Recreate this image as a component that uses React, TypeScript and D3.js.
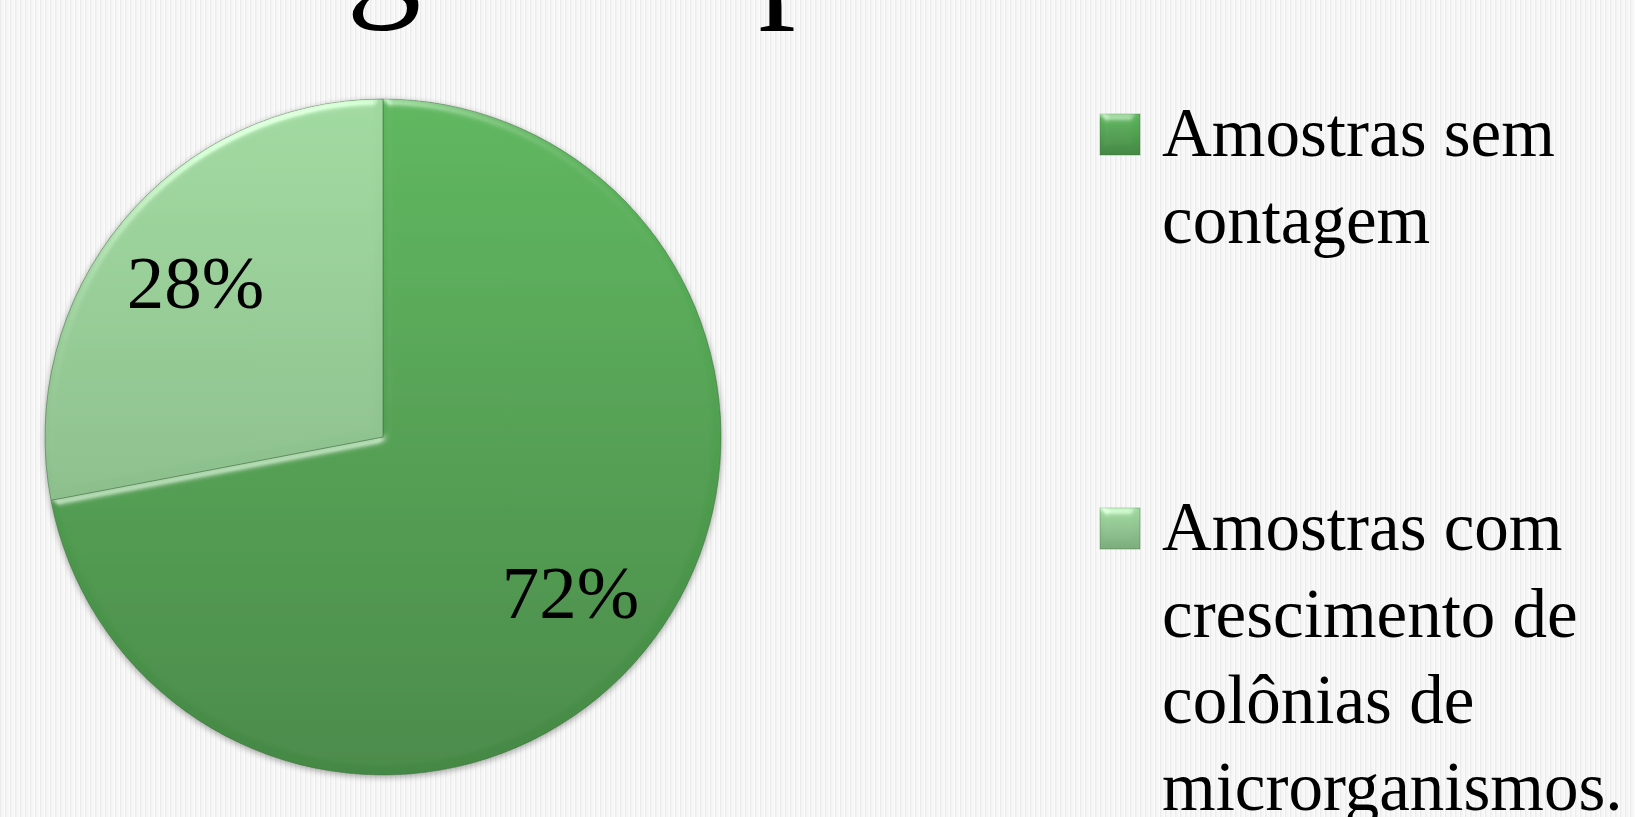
import React from "react";
import * as d3 from "d3";

const categories = ["Amostras sem contagem", "Amostras com crescimento de colônias de microrganismos."];
const values = [72, 28];
const valueLabels = ["72%", "28%"];
const legendLines = [["Amostras sem", "contagem"], ["Amostras com", "crescimento de", "colônias de", "microrganismos."]];
const titleText = "Contagem de placas";

const W = 1635, H = 817;
const cx = 383, cy = 437, R = 338;
const topColors = ["#5cb65c", "#a0d9a0"];
const botColors = ["#458845", "#7dac7d"];
const FONT = "'Liberation Serif', 'DejaVu Serif', serif";

export default function App() {
  const pie = d3.pie<number>().sort(null).value((d) => d);
  const arcs = pie(values);
  const arc = d3.arc<d3.PieArcDatum<number>>().innerRadius(0).outerRadius(R);
  const labelArc = d3.arc<d3.PieArcDatum<number>>().innerRadius(R * 0.72).outerRadius(R * 0.72);
  const legendY = d3.scalePoint<number>().domain([0, 1]).range([156, 550]);
  const lineH = 86.5;

  return (
    <svg width={W} height={H} style={{ position: "absolute", left: 0, top: 0, display: "block" }} fontFamily={FONT}>
      <defs>
        <pattern id="stripes" width="5" height="10" patternUnits="userSpaceOnUse">
          <rect width="5" height="10" fill="#fbfbfb" />
          <rect x="0" width="1.5" height="10" fill="#ececec" />
          <rect x="2.5" width="1" height="10" fill="#f3f3f3" />
        </pattern>
        {values.map((_, i) => (
          <linearGradient key={i} id={`g${i}`} gradientUnits="userSpaceOnUse" x1="0" y1={-R} x2="0" y2={R}>
            <stop offset="0" stopColor={topColors[i]} />
            <stop offset="1" stopColor={botColors[i]} />
          </linearGradient>
        ))}
        {values.map((_, i) => (
          <linearGradient key={"l" + i} id={`lg${i}`} x1="0" y1="0" x2="0" y2="1">
            <stop offset="0" stopColor={topColors[i]} />
            <stop offset="1" stopColor={botColors[i]} />
          </linearGradient>
        ))}
        <filter id="bevel" x="-5%" y="-5%" width="110%" height="110%">
          <feGaussianBlur in="SourceAlpha" stdDeviation="4" result="blur" />
          <feSpecularLighting in="blur" surfaceScale="4" specularConstant="0.8" specularExponent="25" lightingColor="#ffffff" result="spec">
            <feDistantLight azimuth="250" elevation="30" />
          </feSpecularLighting>
          <feComposite in="spec" in2="SourceAlpha" operator="in" result="specIn" />
          <feComposite in="SourceGraphic" in2="specIn" operator="arithmetic" k1="0" k2="1" k3="0.5" k4="0" />
        </filter>
        <filter id="shadow" x="-10%" y="-10%" width="120%" height="120%">
          <feGaussianBlur in="SourceAlpha" stdDeviation="3" />
          <feOffset dx="0" dy="2" result="o" />
          <feComponentTransfer><feFuncA type="linear" slope="0.35" /></feComponentTransfer>
          <feMerge><feMergeNode /><feMergeNode in="SourceGraphic" /></feMerge>
        </filter>
      </defs>
      <rect width={W} height={H} fill="url(#stripes)" />
      <text x={33} y={-1} fontSize={150} letterSpacing={-9} fill="#000">{titleText}</text>
      <g transform={`translate(${cx},${cy})`}>
        <g filter="url(#shadow)">
          {arcs.map((a, i) => (
            <path key={i} d={arc(a) || ""} fill={`url(#g${i})`} filter="url(#bevel)" stroke="#3d6e3d" strokeOpacity={0.55} strokeWidth={1} />
          ))}
        </g>
        {arcs.map((a, i) => {
          const [x, y] = labelArc.centroid(a);
          return (
            <text key={i} x={x} y={y} dy="0.35em" textAnchor="middle" fontSize={75} fill="#000">{valueLabels[i]}</text>
          );
        })}
      </g>
      {categories.map((c, i) => (
        <g key={c}>
          <rect x={1100} y={legendY(i)! - 42} width={40} height={41} fill={`url(#lg${i})`} filter="url(#bevel)" stroke="#3d6e3d" strokeOpacity={0.4} />
          <text x={1162} y={legendY(i)} fontSize={69} fill="#000">
            {legendLines[i].map((l, j) => (
              <tspan key={j} x={1162} y={legendY(i)! + j * lineH}>{l}</tspan>
            ))}
          </text>
        </g>
      ))}
    </svg>
  );
}
